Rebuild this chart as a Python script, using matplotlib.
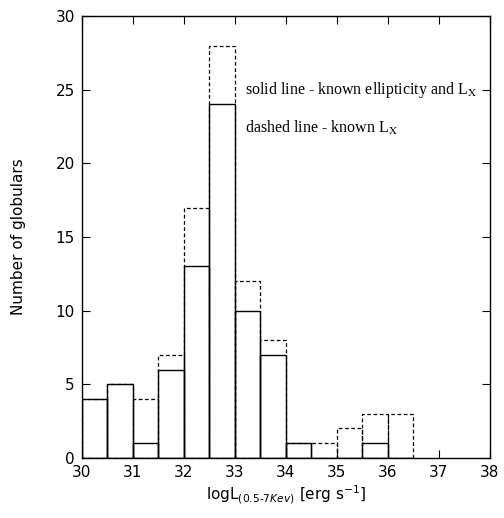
import numpy as np
import matplotlib
matplotlib.use('Agg')
import matplotlib.pyplot as plt

# histogram bins (log L, 0.5 wide) and counts
bin_left = [30.0, 30.5, 31.0, 31.5, 32.0, 32.5, 33.0, 33.5, 34.0, 34.5, 35.0, 35.5, 36.0]
n_ellip = [4, 5, 1, 6, 13, 24, 10, 7, 1, 0, 0, 1, 0]      # known ellipticity and Lx
n_lx = [4, 5, 4, 7, 17, 28, 12, 8, 1, 1, 2, 3, 3]         # known Lx
BIN_W = 0.5

plt.rcParams['font.family'] = 'DejaVu Sans'
plt.rcParams['mathtext.fontset'] = 'dejavusans'

fig = plt.figure(figsize=(5.04, 5.18), dpi=100)
ax = fig.add_axes([0.162, 0.116, 0.810, 0.853])

ax.bar(bin_left, n_lx, width=BIN_W, align='edge', fill=False,
       edgecolor='black', linestyle=(0, (3, 2)), linewidth=0.9)
ax.bar(bin_left, n_ellip, width=BIN_W, align='edge', fill=False,
       edgecolor='black', linestyle='-', linewidth=1.0)

ax.set_xlim(30, 38)
ax.set_ylim(0, 30)
ax.set_xticks(np.arange(30, 39, 1))
ax.set_yticks(np.arange(0, 31, 5))
ax.tick_params(direction='in', top=True, right=True, length=6, labelsize=11, pad=5)
for s in ax.spines.values():
    s.set_linewidth(1.0)

ax.set_xlabel(r'logL$_{(0.5\text{-}7Kev)}$ [erg s$^{-1}$]', fontsize=11, labelpad=3)
ax.set_ylabel('Number of globulars', fontsize=11, labelpad=21)

serif = dict(family='Liberation Serif', fontsize=11.5)
ax.text(33.2, 25.0, 'solid line - known ellipticity and L$_{\\mathrm{X}}$',
        math_fontfamily='stix', va='center', **serif)
ax.text(33.2, 22.4, 'dashed line - known L$_{\\mathrm{X}}$',
        math_fontfamily='stix', va='center', **serif)

fig.savefig('out.png', dpi=100)
